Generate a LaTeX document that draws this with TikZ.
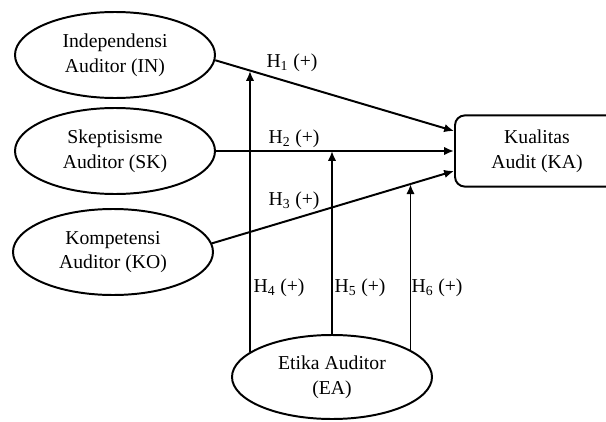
\documentclass[tikz,border=0pt]{standalone}
\usepackage{fontspec}
\setmainfont{Liberation Serif}
\usetikzlibrary{arrows.meta,shapes.geometric}

\begin{document}
\begin{tikzpicture}[
  font=\fontsize{14}{17.5}\selectfont,
  line width=1.4pt,
  var/.style={draw,ellipse,align=center,minimum width=5cm,minimum height=2.15cm,inner sep=0pt},
  arr/.style={-{Latex[length=7pt,width=6pt]}},
  hyp/.style={inner sep=1pt}
]
\clip (0,0) rectangle (15.15,10.525);
\node[var](IN) at (2.875,9.15){Independensi\\Auditor (IN)};
\node[var](SK) at (2.875,6.75){Skeptisisme\\Auditor (SK)};
\node[var](KO) at (2.825,4.225){Kompetensi\\Auditor (KO)};
\node[var,minimum height=2.1cm](EA) at (8.3,1.1){Etika Auditor\\(EA)};
\node[draw,rounded corners=7pt,align=center,minimum width=4.1cm,minimum height=1.78cm](KA) at (13.425,6.75){Kualitas\\Audit (KA)};
\draw[arr](IN.-3) -- coordinate[pos=0.151](h4) ([yshift=0.5cm]KA.west);
\draw[arr](SK) -- coordinate[pos=0.487](h5) (KA.west);
\draw[arr](KO.5) -- coordinate[pos=0.817](h6) ([yshift=-0.5cm]KA.west);
\draw[arr](EA.163) -- (EA.163 |- h4);
\draw[arr](EA.north) -- (EA.north |- h5);
\draw[arr](EA.19) -- (EA.19 |- h6);
\node[hyp](l1) at (7.3,8.95){H\textsubscript{1} (+)};
\node[hyp](l2) at (7.35,7.05){H\textsubscript{2} (+)};
\node[hyp](l3) at (7.35,5.5){H\textsubscript{3} (+)};
\node[hyp](l4) at (6.975,3.325){H\textsubscript{4} (+)};
\node[hyp](l5) at (9.0,3.325){H\textsubscript{5} (+)};
\node[hyp](l6) at (10.925,3.325){H\textsubscript{6} (+)};
\end{tikzpicture}
\end{document}
